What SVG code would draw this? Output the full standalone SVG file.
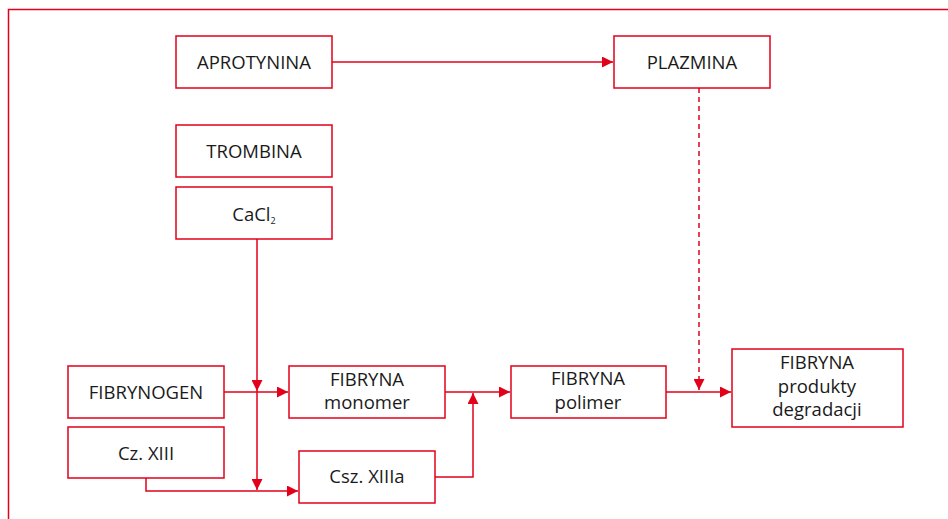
<svg xmlns="http://www.w3.org/2000/svg" width="948" height="519" viewBox="0 0 948 519">
<style>
.box{fill:#fff;stroke:#e2001a;stroke-width:1.5}
.ln{fill:none;stroke:#e2001a;stroke-width:1.5}
.dash{stroke-dasharray:5 4}
text{font-family:"Open Sans","Noto Sans","Liberation Sans",sans-serif;font-size:18.5px;fill:#1a1a1a;text-anchor:middle}
</style>
<defs>
<marker id="ah" viewBox="0 0 10 10" refX="10" refY="5" markerWidth="11" markerHeight="11" markerUnits="userSpaceOnUse" orient="auto">
<path d="M0,0 L10,5 L0,10 Z" fill="#e2001a"/>
</marker>
</defs>
<path class="ln" d="M8.5,519 V9.5 H948"/>
<g id="connectors">
<path class="ln" d="M332,62 H613" marker-end="url(#ah)"/>
<path class="ln dash" d="M699,88 V390" marker-end="url(#ah)"/>
<path class="ln" d="M257,239 V391" marker-end="url(#ah)"/>
<path class="ln" d="M257,391 V490" marker-end="url(#ah)"/>
<path class="ln" d="M224,392 H288" marker-end="url(#ah)"/>
<path class="ln" d="M146,478 V491 H298" marker-end="url(#ah)"/>
<path class="ln" d="M435,477 H473 V393" marker-end="url(#ah)"/>
<path class="ln" d="M445,392 H510" marker-end="url(#ah)"/>
<path class="ln" d="M666,392 H731" marker-end="url(#ah)"/>
</g>
<g id="aprotynina"><rect class="box" x="176" y="36" width="156" height="52"/><text x="254" y="69">APROTYNINA</text></g>
<g id="plazmina"><rect class="box" x="614" y="36" width="156" height="52"/><text x="692" y="69">PLAZMINA</text></g>
<g id="trombina"><rect class="box" x="176" y="125" width="156" height="52"/><text x="254" y="158">TROMBINA</text></g>
<g id="cacl2"><rect class="box" x="176" y="187" width="156" height="52"/><text x="254" y="221">CaCl<tspan font-size="9" dy="3">2</tspan></text></g>
<g id="fibrynogen"><rect class="box" x="68" y="366" width="156" height="52"/><text x="146" y="399">FIBRYNOGEN</text></g>
<g id="czxiii"><rect class="box" x="68" y="427" width="156" height="51"/><text x="146" y="460">Cz. XIII</text></g>
<g id="monomer"><rect class="box" x="289" y="366" width="156" height="52"/><text x="367" y="386">FIBRYNA</text><text x="367" y="409">monomer</text></g>
<g id="cszxiiia"><rect class="box" x="299" y="451" width="136" height="52"/><text x="367" y="483">Csz. XIIIa</text></g>
<g id="polimer"><rect class="box" x="511" y="366" width="155" height="52"/><text x="588" y="385">FIBRYNA</text><text x="588" y="409">polimer</text></g>
<g id="produkty"><rect class="box" x="732" y="349" width="171" height="78"/><text x="817" y="369">FIBRYNA</text><text x="817" y="393">produkty</text><text x="817" y="416">degradacji</text></g>
</svg>
